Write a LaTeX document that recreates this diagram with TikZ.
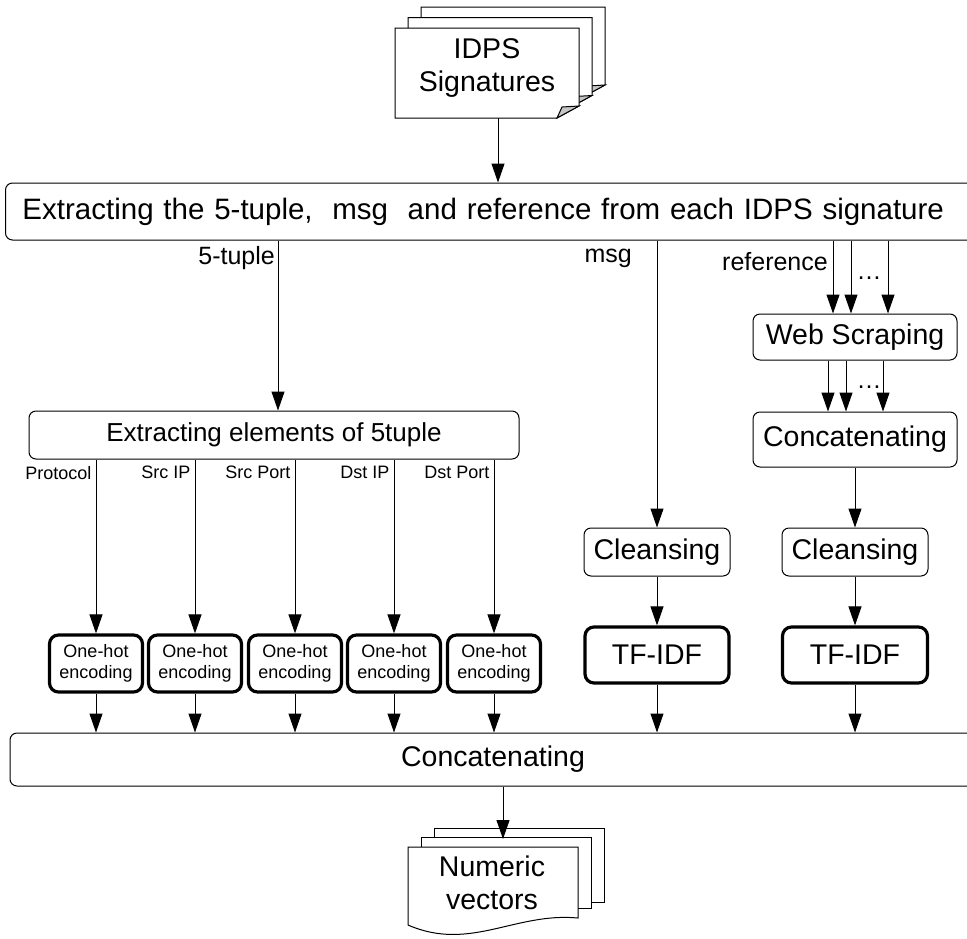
\documentclass[tikz,border=0pt]{standalone}
\usepackage{fontspec}
\setmainfont{Liberation Sans}
\usetikzlibrary{arrows.meta}

\tikzset{
  box/.style={draw, rounded corners=7pt, fill=white, inner sep=0pt, line width=1pt,
    font=\fontsize{28.5}{32}\selectfont},
  thickbox/.style={box, line width=3.2pt, rounded corners=9pt},
  hotbox/.style={thickbox, minimum width=93pt, minimum height=57pt, align=center,
    font=\fontsize{18}{21}\selectfont},
  doctext/.style={align=center, inner sep=0pt, font=\fontsize{28.5}{33}\selectfont},
  lbl/.style={inner sep=0pt, font=\fontsize{25}{28}\selectfont},
  small/.style={inner sep=0pt, font=\fontsize{18}{21}\selectfont},
  arr/.style={-{Triangle[length=19pt,width=13pt]}, line width=1pt}
}

\begin{document}
\begin{tikzpicture}[x=1pt,y=-1pt]
\useasboundingbox (0,0) rectangle (967,938);

% input pages
\foreach \d in {2,1,0}{
  \draw[fill=white, line width=1pt, shift={(13*\d,-10.5*\d)}] (395,28) -- (579,28) -- (579,106) -- (557,118) -- (395,118) -- cycle;
  \draw[fill=gray!45, line width=1pt, shift={(13*\d,-10.5*\d)}] (557,118) -- (562,107) -- (579,106) -- cycle;
}
\node[doctext] (sig) at (487,68) {IDPS\\Signatures};
\coordinate (sigbot) at (498,118);

\node[box, anchor=west, text width=966pt, inner xsep=17pt, minimum height=57pt, align=left,
  font=\fontsize{29.5}{33}\selectfont] (main) at (5,211.5)
  {Extracting the 5-tuple,\ \ msg\ \ and reference from each IDPS signature};
\draw[arr] (sigbot) -- (sigbot |- main.north);

% 5-tuple branch
\node[box, font=\fontsize{26}{30}\selectfont, minimum width=490pt, minimum height=48pt] (elem) at (274,435) {Extracting elements of 5tuple};
\coordinate (ctuple) at (278,0);
\draw[arr] (main.south -| ctuple) -- (elem.north -| ctuple);
\node[lbl, anchor=east] (ltuple) at (275,258) {5-tuple};

\node[box, minimum width=966pt, minimum height=53pt] (cat) at (493,759.5) {Concatenating};

\foreach \x/\lab [count=\i] in {96/Protocol,195/Src IP,295/Src Port,394/Dst IP,494/Dst Port}{
  \node[hotbox] (oh\i) at (\x,663.5) {One-hot\\encoding};
  \draw[arr] (elem.south -| oh\i) -- (oh\i.north)
    node[small, pos=0, anchor=north east, xshift=-4pt, yshift=-6pt] (l\i) {\lab};
  \draw[arr] (oh\i.south) -- (oh\i.south |- cat.north);
}

% msg branch
\node[box, minimum width=146pt, minimum height=48pt] (clmsg) at (657,552) {Cleansing};
\node[thickbox, minimum width=144pt, minimum height=56pt] (tfmsg) at (657,655) {TF-IDF};
\draw[arr] (main.south -| clmsg) -- (clmsg.north);
\node[lbl, anchor=east] (lmsg) at (632,258) {msg};
\draw[arr] (clmsg) -- (tfmsg);
\draw[arr] (tfmsg) -- (tfmsg |- cat.north);

% reference branch
\node[box, minimum width=204pt, minimum height=46pt] (web) at (855,337) {Web Scraping};
\node[box, minimum width=204pt, minimum height=55pt] (catref) at (855,439.5) {Concatenating};
\node[box, minimum width=146pt, minimum height=48pt] (clref) at (855,552) {Cleansing};
\node[thickbox, minimum width=145pt, minimum height=56pt] (tfref) at (855,655) {TF-IDF};
\node[lbl, anchor=east] (lref) at (828,262) {reference};
\foreach \s in {-22,-4,33}
  \draw[arr] ([xshift=\s pt]web.north |- main.south) -- ([xshift=\s pt]web.north);
\foreach \s in {-27,-9,28}
  \draw[arr] ([xshift=\s pt]web.south) -- ([xshift=\s pt]catref.north);
\node[lbl] (dots1) at (869,278) {\dots};
\node[lbl] (dots2) at (869,387) {\dots};
\draw[arr] (catref) -- (clref);
\draw[arr] (clref) -- (tfref);
\draw[arr] (tfref) -- (tfref |- cat.north);

% output pages
\draw[fill=white, line width=1pt] (434,828) rectangle (604,902);
\draw[fill=white, line width=1pt] (421,837) rectangle (591,908);
\draw[fill=white, line width=1pt] (408,847) -- (578,847) -- (578,918) .. controls (515,912) and (470,952) .. (408,925) -- cycle;
\node[doctext] (vec) at (492,883) {Numeric\\vectors};
\coordinate (vectop) at (503,839);
\draw[arr] (cat.south -| vectop) -- (vectop);
\end{tikzpicture}
\end{document}
